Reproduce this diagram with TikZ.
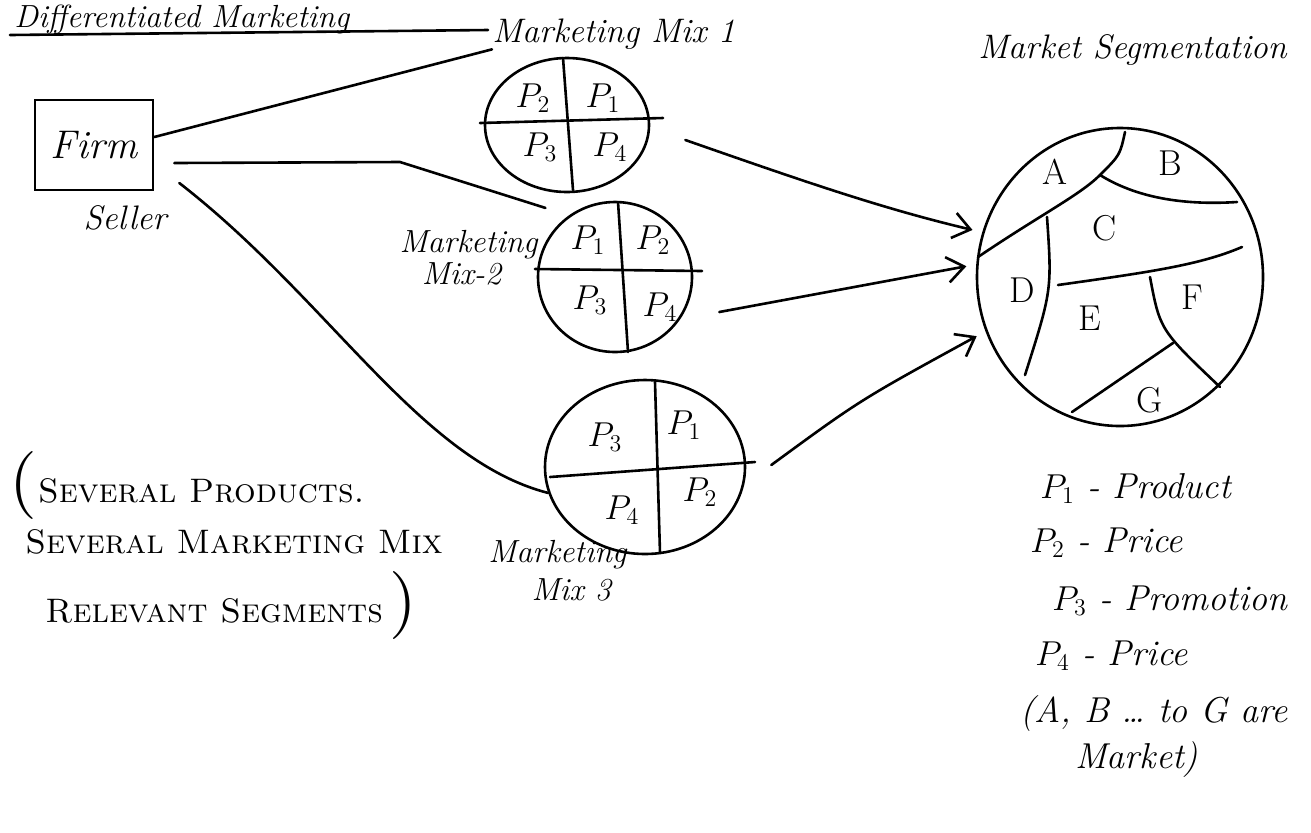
\documentclass[tikz,border=0pt]{standalone}
\usetikzlibrary{shapes.geometric,arrows.meta}

\tikzset{
  ink/.style={line width=1.3pt,line cap=round,line join=round},
  hand/.style={font=\fontsize{18}{20}\selectfont\itshape,inner sep=0pt},
  mixlab/.style={font=\fontsize{16}{17}\selectfont\itshape,inner sep=0pt},
  capsline/.style={font=\fontsize{17}{19}\selectfont\scshape,inner sep=0pt,anchor=base west},
  plab/.style={font=\fontsize{18}{20}\selectfont,inner sep=0pt},
  mixcirc/.style={ellipse,draw,line width=1.3pt,inner sep=0pt},
  toseg/.style={ink,-{Straight Barb[length=3mm,width=4.5mm]},shorten >=5pt}
}

\begin{document}
\begin{tikzpicture}[x=0.5pt,y=-0.5pt]
\useasboundingbox (0,0) rectangle (1311,832);

% heading
\node[hand,anchor=base west,font=\fontsize{16}{18}\selectfont\itshape] (head) at (14,27) {Differentiated Marketing};
\draw[ink] (10,35) -- (488,30);

% seller
\node[draw,line width=1.3pt,minimum width=59pt,minimum height=45pt,hand,font=\fontsize{20}{22}\selectfont\itshape] (firm) at (94,145) {Firm};
\node[hand,font=\fontsize{17}{19}\selectfont\itshape] (seller) at (125,218) {Seller};

% marketing mixes
\node[mixcirc,minimum width=82pt,minimum height=67pt] (m1) at (567,125) {};
\node[mixcirc,minimum width=77pt,minimum height=75pt] (m2) at (615,277) {};
\node[mixcirc,minimum width=100pt,minimum height=87pt] (m3) at (645,467) {};

\draw[ink] (563,58) -- (573,190);
\draw[ink] (480,123) -- (663,118);
\draw[ink] (618,202) -- (628,352);
\draw[ink] (535,269) -- (702,271);
\draw[ink] (655,382) -- (660,553);
\draw[ink] (550,477) -- (755,462);

\foreach \x/\y/\p/\nm in {533/98/2/a2,603/98/1/a1,540/147/3/a3,610/147/4/a4,
  588/240/1/b1,653/240/2/b2,590/300/3/b3,660/307/4/b4,
  605/437/3/c3,684/425/1/c1,622/510/4/c4,700/492/2/c2} {
  \node[plab] (\nm) at (\x,\y) {$P_\p$};
}

\node[mixlab,anchor=base west,font=\fontsize{17}{18}\selectfont\itshape] (lab1) at (492,42) {Marketing Mix 1};
\node[mixlab,align=left,anchor=north east] (lab2) at (538,230) {Marketing\\[-1pt]\ \ Mix-2\ \ };
\node[mixlab,align=left,anchor=north west] (lab3) at (488,540) {Marketing\\[2pt]\quad\ Mix 3};

% seller to the mixes
\draw[ink] ([yshift=4pt]firm.east) -- (lab1.south west);
\draw[ink] ([shift={(20,18)}]firm.east) -- (400,162) -- ([shift={(-20,-10)}]m2.130);
\draw[ink] ([shift={(25,38)}]firm.east) .. controls (330,300) and (420,460) .. (m3.195);

% market
\node[hand,anchor=base west,font=\fontsize{17}{19}\selectfont\itshape] (segtitle) at (978,58) {Market Segmentation};
\node[ellipse,draw,line width=1.3pt,minimum width=143pt,minimum height=149pt] (market) at (1120,277) {};

\draw[ink] (1125,132) .. controls (1120,155) .. (1100,175);
\draw[ink] (978,257) .. controls (1040,215) and (1080,195) .. (1100,175);
\draw[ink] (1100,175) .. controls (1140,200) and (1190,205) .. (1237,202);
\draw[ink] (1047,217) .. controls (1052,290) .. (1025,375);
\draw[ink] (1058,285) .. controls (1150,272) and (1200,265) .. (1242,247);
\draw[ink] (1150,277) .. controls (1160,330) .. (1220,387);
\draw[ink] (1173,343) -- (1072,412);

\foreach \x/\y/\s in {1055/172/A,1170/163/B,1105/228/C,1022/290/D,1090/318/E,1192/297/F,1150/400/G} {
  \node[plab] (seg\s) at (\x,\y) {\s};
}

% mixes to the segments
\draw[toseg] ([shift={(35,15)}]m1.east) .. controls (800,180) and (880,208) .. (market.162);
\draw[toseg] ([shift={(26,35)}]m2.east) -- (market.175);
\draw[toseg] ([shift={(25,-2)}]m3.east) .. controls (860,400) .. (market.202);

% notes
\node[capsline] (note1) at (8,502) {{\fontsize{34}{34}\selectfont(}Several Products.};
\node[capsline] (note2) at (25,553) {Several Marketing Mix};
\node[capsline] (note3) at (45,622) {Relevant Segments\,{\fontsize{34}{34}\selectfont)}};

\node[hand,anchor=base west] (k1) at (1040,498) {$P_1$ - Product};
\node[hand,anchor=base west] (k2) at (1030,552) {$P_2$ - Price};
\node[hand,anchor=base west] (k3) at (1052,610) {$P_3$ - Promotion};
\node[hand,anchor=base west] (k4) at (1035,665) {$P_4$ - Price};
\node[hand,anchor=base west] (k5) at (1020,722) {(A, B \dots\ to G are};
\node[hand,anchor=base west] (k6) at (1075,768) {Market)};
\end{tikzpicture}
\end{document}
